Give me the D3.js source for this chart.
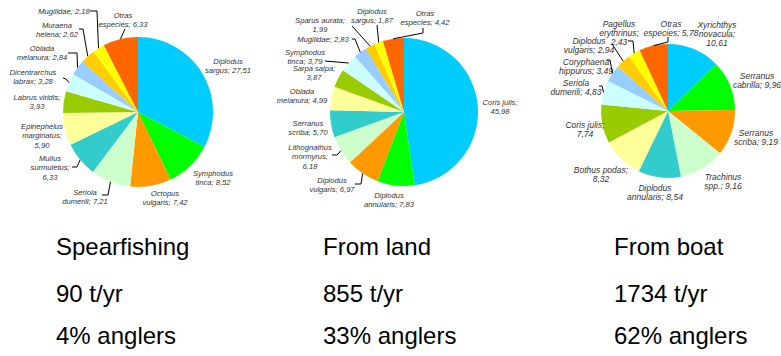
<!DOCTYPE html>
<html>
<head>
<meta charset="utf-8">
<script src="https://cdn.jsdelivr.net/npm/d3@7"></script>
<style>
  html, body { margin: 0; padding: 0; background: #fff; }
  svg { display: block; }
</style>
</head>
<body>
<svg id="chart" width="781" height="356"></svg>
<script>
// Catch composition (% of weight) by recreational fishing mode
const spearSpecies = ["Diplodus sargus", "Symphodus tinca", "Octopus vulgaris", "Seriola dumerili",
  "Mullus surmuletus", "Epinephelus marginatus", "Labrus viridis", "Dicentrarchus labrax",
  "Oblada melanura", "Muraena helena", "Mugilidae", "Otras especies"];
const spearValues = [27.51, 8.52, 7.42, 7.21, 6.33, 5.90, 3.93, 3.28, 2.84, 2.62, 2.18, 6.33];

const landSpecies = ["Coris julis", "Diplodus annularis", "Diplodus vulgaris", "Lithognathus mormyrus",
  "Serranus scriba", "Oblada melanura", "Sarpa salpa", "Symphodus tinca",
  "Mugilidae", "Sparus aurata", "Diplodus sargus", "Otras especies"];
const landValues = [45.98, 7.83, 6.97, 6.18, 5.70, 4.99, 3.87, 3.79, 2.83, 1.99, 1.87, 4.42];

const boatSpecies = ["Xyrichthys novacula", "Serranus cabrilla", "Serranus scriba", "Trachinus spp.",
  "Diplodus annularis", "Bothus podas", "Coris julis", "Seriola dumerili",
  "Coryphaena hippurus", "Diplodus vulgaris", "Pagellus erythrinus", "Otras especies"];
const boatValues = [10.61, 9.96, 9.19, 9.16, 8.54, 8.32, 7.74, 4.83, 3.49, 2.94, 2.43, 5.78];

const modeNames = ["Spearfishing", "From land", "From boat"];
const modeTonnes = ["90 t/yr", "855 t/yr", "1734 t/yr"];
const modeAnglers = ["4% anglers", "33% anglers", "62% anglers"];

// Slice palette, in slice order
const palette = ["#00ccff", "#00ff00", "#ff9900", "#ccffcc", "#33cccc", "#ffff99",
  "#99cc00", "#ccffff", "#99ccff", "#ffcc00", "#ffff00", "#ff6600"];

// Label layout per pie: text block centre (x, y of first line), words per line,
// optional leader path (the last point is taken on the slice rim).
const layouts = [
  { cx: 138, cy: 112, r: 75, font: 7.6, lh: 9.6, labels: [
    { x: 228, y: 61, w: [1, 2] },
    { x: 213, y: 173, w: [1, 2] },
    { x: 165, y: 193, w: [1, 2] },
    { x: 85, y: 192, w: [1, 2], lead: [[102, 195], [108, 195]] },
    { x: 50, y: 158, w: [1, 1, 1], lead: [[72, 167], [77, 167]] },
    { x: 42, y: 126, w: [1, 1, 1] },
    { x: 37, y: 97, w: [2, 1] },
    { x: 33, y: 72, w: [1, 2], lead: [[63, 78], [66, 79]] },
    { x: 42, y: 48, w: [1, 2], lead: [[68, 53], [77, 53]] },
    { x: 57, y: 25, w: [1, 2], lead: [[79, 29], [83, 29]] },
    { x: 64, y: 11, w: [2], lead: [[90, 11], [97, 11]] },
    { x: 123, y: 15, w: [1, 2], lead: [[125, 29]] }
  ]},
  { cx: 404, cy: 112, r: 74, font: 7.6, lh: 9.6, labels: [
    { x: 500, y: 102, w: [2, 1] },
    { x: 389, y: 195, w: [1, 2] },
    { x: 332, y: 180, w: [1, 2], lead: [[355, 184], [361, 184]] },
    { x: 310, y: 147, w: [1, 1, 1], lead: [[332, 155], [337, 155]] },
    { x: 308, y: 123, w: [1, 2] },
    { x: 302, y: 91, w: [1, 2] },
    { x: 314, y: 68, w: [2, 1] },
    { x: 305, y: 52, w: [1, 2], lead: [[325, 61]] },
    { x: 323, y: 39, w: [2], lead: [[352, 39], [355, 39]] },
    { x: 320, y: 20, w: [2, 1], lead: [[352, 26]] },
    { x: 372, y: 11, w: [1, 2], lead: [[377, 25]] },
    { x: 425, y: 13, w: [1, 2], lead: [[423, 28], [423, 33]] }
  ]},
  { cx: 668, cy: 111, r: 67, font: 8.5, lh: 9.0, labels: [
    { x: 717, y: 25, w: [1, 1, 1] },
    { x: 757, y: 76, w: [1, 2] },
    { x: 756, y: 133, w: [1, 2] },
    { x: 723, y: 177, w: [1, 2] },
    { x: 655, y: 188, w: [1, 2] },
    { x: 601, y: 170, w: [2, 1] },
    { x: 585, y: 125, w: [2, 1] },
    { x: 576, y: 83, w: [1, 2], lead: [[599, 86], [602, 86]] },
    { x: 586, y: 62, w: [1, 2], lead: [[607, 60], [610, 60]] },
    { x: 589, y: 41, w: [1, 2], lead: [[612, 44]] },
    { x: 619, y: 24, w: [1, 1, 1], lead: [[628, 41], [633, 41]] },
    { x: 671, y: 24, w: [1, 2], lead: [[668, 37], [668, 42]] }
  ]}
];

const pies = [
  { species: spearSpecies, values: spearValues },
  { species: landSpecies, values: landValues },
  { species: boatSpecies, values: boatValues }
];

const svg = d3.select("#chart");
const fmt = v => v.toFixed(2).replace(".", ",");
const color = d3.scaleOrdinal().domain(d3.range(palette.length)).range(palette);
const pieGen = d3.pie().sort(null).value(d => d.value);

pies.forEach((p, pi) => {
  const L = layouts[pi];
  const data = p.species.map((s, i) => ({ name: s, value: p.values[i], idx: i }));
  const arcs = pieGen(data);
  const arcGen = d3.arc().innerRadius(0).outerRadius(L.r);

  const g = svg.append("g").attr("transform", `translate(${L.cx},${L.cy})`);
  g.selectAll("path.slice").data(arcs).join("path")
    .attr("class", "slice")
    .attr("d", arcGen)
    .attr("fill", d => color(d.data.idx));

  const lg = svg.append("g")
    .attr("font-family", "'Liberation Sans', Arial, sans-serif")
    .attr("font-style", "italic")
    .attr("font-size", L.font)
    .attr("fill", "#333");

  arcs.forEach((a, i) => {
    const lab = L.labels[i];
    const words = `${a.data.name}; ${fmt(a.data.value)}`.split(" ");
    const lines = [];
    let k = 0;
    lab.w.forEach(n => { lines.push(words.slice(k, k + n).join(" ")); k += n; });
    if (k < words.length) lines[lines.length - 1] += " " + words.slice(k).join(" ");

    const t = lg.append("text").attr("text-anchor", "middle");
    lines.forEach((ln, j) => {
      t.append("tspan").attr("x", lab.x).attr("y", lab.y + j * L.lh + L.font * 0.35).text(ln);
    });

    if (lab.lead) {
      const mid = (a.startAngle + a.endAngle) / 2;
      const rim = [L.cx + L.r * Math.sin(mid), L.cy - L.r * Math.cos(mid)];
      const pts = lab.lead.concat([rim]);
      svg.append("path")
        .attr("d", d3.line()(pts))
        .attr("fill", "none")
        .attr("stroke", "#000")
        .attr("stroke-width", 1);
    }
  });
});

// Mode summaries below each pie
const colX = [56, 323, 614];
const tg = svg.append("g")
  .attr("font-family", "'Liberation Sans', Arial, sans-serif")
  .attr("font-size", 24)
  .attr("fill", "#000");
modeNames.forEach((m, i) => {
  tg.append("text").attr("x", colX[i]).attr("y", 255).text(m);
  tg.append("text").attr("x", colX[i]).attr("y", 302).text(modeTonnes[i]);
  tg.append("text").attr("x", colX[i]).attr("y", 344).text(modeAnglers[i]);
});
</script>
</body>
</html>
